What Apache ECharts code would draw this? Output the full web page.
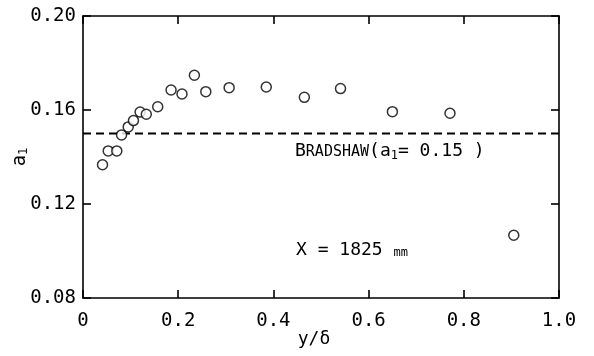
<!DOCTYPE html>
<html>
<head>
<meta charset="utf-8">
<script src="https://cdn.jsdelivr.net/npm/echarts@6/dist/echarts.min.js"></script>
<style>
  html, body { margin: 0; padding: 0; background: #fff; }
  #chart { width: 594px; height: 356px; }
</style>
</head>
<body>
<div id="chart"></div>
<script>
// Measured profile of a1 across the boundary layer, X = 1825 mm
const yOverDelta = [0.041, 0.053, 0.071, 0.081, 0.095, 0.106, 0.120, 0.133, 0.157, 0.185,
                    0.208, 0.234, 0.258, 0.307, 0.385, 0.465, 0.541, 0.650, 0.771, 0.905];
const a1Values   = [0.1367, 0.1426, 0.1426, 0.1494, 0.1528, 0.1555, 0.1591, 0.1582, 0.1614, 0.1685,
                    0.1668, 0.1748, 0.1678, 0.1695, 0.1698, 0.1654, 0.1691, 0.1593, 0.1586, 0.1067];
// Bradshaw's constant
const bradshawA1 = 0.15;
const xTicks = ['0', '0.2', '0.4', '0.6', '0.8', '1.0'];
const yTicks = ['0.08', '0.12', '0.16', '0.20'];

const FONT = 'DejaVu Sans Mono';
const chart = echarts.init(document.getElementById('chart'), null, { renderer: 'canvas' });

const axisLine = () => ({ show: true, onZero: false, lineStyle: { color: '#000', width: 1.6 } });
const axisTick = () => ({ show: true, inside: true, length: 8, lineStyle: { color: '#000', width: 1.6 } });

chart.setOption({
  animation: false,
  backgroundColor: '#fff',
  grid: { left: 83, right: 35, top: 16, bottom: 58 },
  xAxis: [
    {
      type: 'value', min: 0, max: 1, interval: 0.2, position: 'bottom',
      axisLine: axisLine(), axisTick: axisTick(), splitLine: { show: false },
      axisLabel: {
        margin: 14, color: '#000', fontFamily: FONT, fontSize: 19,
        formatter: (v) => xTicks[Math.round(v / 0.2)]
      }
    },
    {
      type: 'value', min: 0, max: 1, interval: 0.2, position: 'top',
      axisLine: axisLine(), axisTick: axisTick(), splitLine: { show: false }, axisLabel: { show: false }
    }
  ],
  yAxis: [
    {
      type: 'value', min: 0.08, max: 0.20, interval: 0.04, position: 'left',
      axisLine: axisLine(), axisTick: axisTick(), splitLine: { show: false },
      axisLabel: {
        margin: 7, color: '#000', fontFamily: FONT, fontSize: 19,
        formatter: (v) => yTicks[Math.round((v - 0.08) / 0.04)]
      }
    },
    {
      type: 'value', min: 0.08, max: 0.20, interval: 0.04, position: 'right',
      axisLine: axisLine(), axisTick: axisTick(), splitLine: { show: false }, axisLabel: { show: false }
    }
  ],
  series: [
    {
      type: 'line',
      data: [[0, bradshawA1], [1, bradshawA1]],
      symbol: 'none',
      lineStyle: { color: '#000', width: 2, type: [8, 5] },
      z: 2
    },
    {
      type: 'scatter',
      data: yOverDelta.map((x, i) => [x, a1Values[i]]),
      symbol: 'circle',
      symbolSize: 10,
      itemStyle: { color: '#fff', borderColor: '#000', borderWidth: 1.5 },
      z: 3
    }
  ],
  graphic: [
    {
      type: 'text', left: 295, top: 142,
      style: {
        text: '{b|B}{s|RADSHAW}{b|(a}{sub|1}{b|= 0.15 )}',
        rich: {
          b: { fontFamily: FONT, fontSize: 18, fill: '#000', verticalAlign: 'bottom' },
          s: { fontFamily: FONT, fontSize: 15, fill: '#000', verticalAlign: 'bottom' },
          sub: { fontFamily: FONT, fontSize: 12, fill: '#000', verticalAlign: 'bottom', padding: [0, 0, -2, 0] }
        }
      }
    },
    {
      type: 'text', left: 296, top: 241,
      style: {
        text: '{b|X = 1825 }{s|mm}',
        rich: {
          b: { fontFamily: FONT, fontSize: 18, fill: '#000', verticalAlign: 'bottom' },
          s: { fontFamily: FONT, fontSize: 12, fill: '#000', verticalAlign: 'bottom' }
        }
      }
    },
    {
      type: 'text', x: 20, y: 157, rotation: Math.PI / 2,
      style: {
        text: '{b|a}{sub|1}',
        align: 'center', verticalAlign: 'middle',
        rich: {
          b: { fontFamily: FONT, fontSize: 19, fill: '#000', verticalAlign: 'bottom' },
          sub: { fontFamily: FONT, fontSize: 12, fill: '#000', verticalAlign: 'bottom' }
        }
      }
    },
    {
      type: 'text', x: 314, y: 339,
      style: {
        text: 'y/δ', fontFamily: FONT, fontSize: 18, fill: '#000',
        align: 'center', verticalAlign: 'middle'
      }
    }
  ]
});
</script>
</body>
</html>
